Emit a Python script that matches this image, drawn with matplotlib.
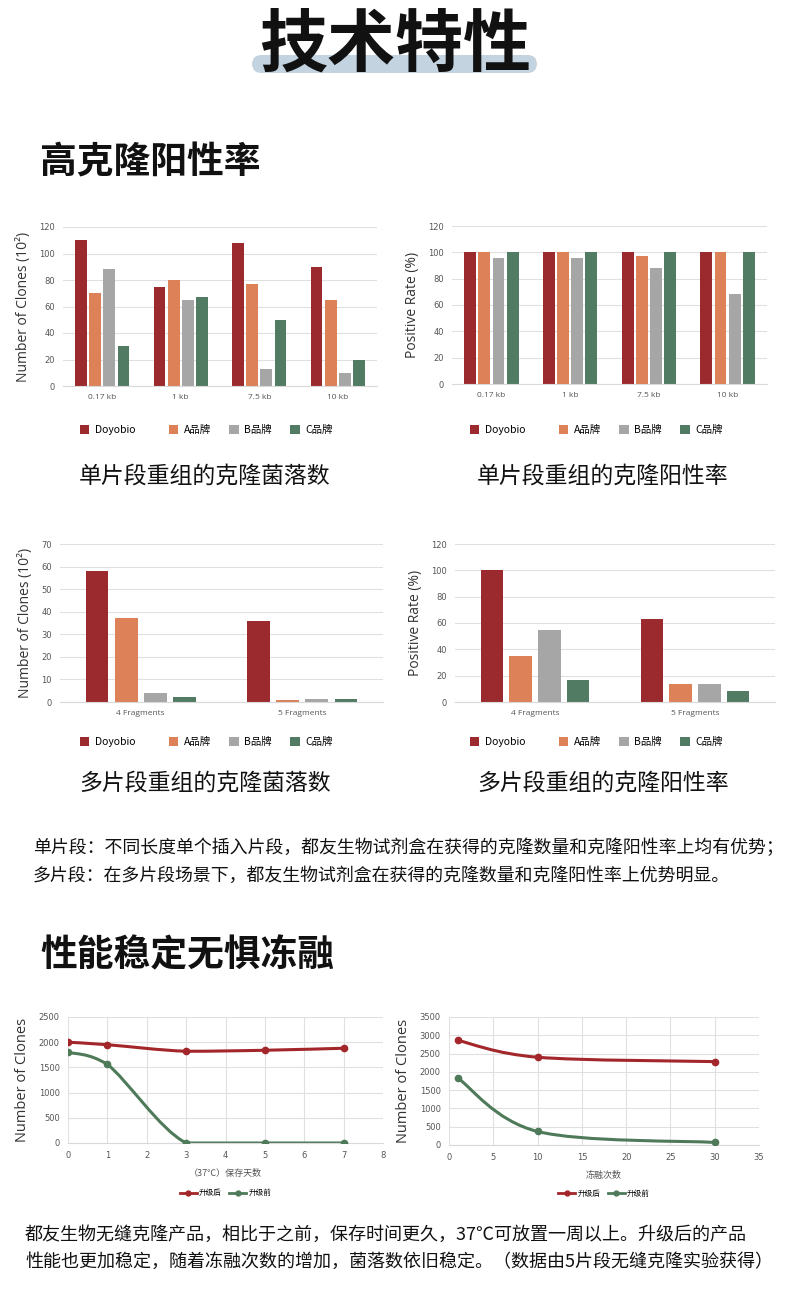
import numpy as np
import matplotlib as mpl
mpl.use('Agg')
import matplotlib.pyplot as plt
from matplotlib.patches import FancyBboxPatch, PathPatch
from matplotlib.path import Path
from matplotlib.lines import Line2D

# data
brands = ['Doyobio', 'A品牌', 'B品牌', 'C品牌']
brand_colors = ['#9b2a2f', '#dc8158', '#a6a6a6', '#517b63']

single_cats = ['0.17 kb', '1 kb', '7.5 kb', '10 kb']
single_clones = [[110, 75, 108, 90],
                 [70, 80, 77, 65],
                 [88, 65, 13, 10],
                 [30, 67, 50, 20]]
single_rate = [[100, 100, 100, 100],
               [100, 100, 97, 100],
               [96, 96, 88, 68],
               [100, 100, 100, 100]]

multi_cats = ['4 Fragments', '5 Fragments']
multi_clones = [[58, 36], [37, 1], [4, 1.2], [2, 1.2]]
multi_rate = [[100, 63], [35, 14], [55, 14], [17, 8]]

days = [0, 1, 3, 5, 7]
days_after = [2000, 1950, 1820, 1840, 1880]
days_before = [1800, 1560, 0, 0, 0]

thaws = [1, 10, 30]
thaws_after = [2860, 2400, 2280]
thaws_before = [1830, 370, 70]

line_names = ['升级后', '升级前']
line_colors = ['#a3262a', '#4e7a5a']

W, H = 790, 1293
CJK = ['Noto Sans CJK SC', 'DejaVu Sans']
LAT = ['Open Sans', 'Noto Sans CJK SC']

fig = plt.figure(figsize=(W / 100, H / 100), dpi=100)
fig.patch.set_facecolor('white')


def box(l, t, r, b):
    return [l / W, 1 - b / H, (r - l) / W, (b - t) / H]


def ftext(x, y, s, **kw):
    fig.text(x / W, 1 - y / H, s, **kw)


# headings
fig.patches.append(FancyBboxPatch((252 / W, 1 - 73 / H), 285 / W, 18 / H,
                                  boxstyle='round,pad=0,rounding_size=0.012',
                                  transform=fig.transFigure, fc='#c3d3e0', ec='none',
                                  mutation_aspect=W / H))
ftext(395, 46, '技术特性', family=CJK, fontsize=49, fontweight='bold',
      ha='center', va='center', color='#111111')
ftext(40, 163, '高克隆阳性率', family=CJK, fontsize=26.5, fontweight='bold',
      va='center', color='#111111')
ftext(40, 956, '性能稳定无惧冻融', family=CJK, fontsize=26.5, fontweight='bold',
      va='center', color='#111111')


def style_axes(ax, ymax, ystep):
    ax.set_ylim(0, ymax)
    ax.set_yticks(np.arange(0, ymax + 1, ystep))
    for s in ['top', 'right', 'left']:
        ax.spines[s].set_visible(False)
    ax.spines['bottom'].set_color('#d9d9d9')
    ax.yaxis.grid(True, color='#e0e0e0', lw=0.8)
    ax.set_axisbelow(True)
    ax.tick_params(length=0, labelsize=6, colors='#555555', pad=6)


def bar_chart(rect, cats, vals, ymax, ystep, ylabel, width, step, leg_x, leg_y):
    ax = fig.add_axes(box(*rect))
    x = np.arange(len(cats))
    bars = []
    for i, (v, c) in enumerate(zip(vals, brand_colors)):
        bars.append(ax.bar(x + (i - 1.5) * step, v, width, color=c))
    ax.set_xlim(-0.5, len(cats) - 0.5)
    ax.set_xticks(x)
    ax.set_xticklabels(cats, family=LAT)
    style_axes(ax, ymax, ystep)
    ax.set_ylabel(ylabel, family=LAT, fontsize=10, color='#333333', labelpad=6)
    labels = [brands[0] + '\u3000  '] + brands[1:]
    ax.legend(bars, labels, loc='center left', bbox_to_anchor=(leg_x / W, 1 - leg_y / H),
              bbox_transform=fig.transFigure, ncol=4, frameon=False,
              borderpad=0, borderaxespad=0,
              handlelength=0.9, handleheight=0.9, columnspacing=1.8,
              handletextpad=0.5, prop={'family': CJK, 'size': 7.5})
    return ax


bar_chart((63, 227, 377, 386), single_cats, single_clones, 120, 20,
          'Number of Clones (10²)', 0.15, 0.18, 80, 430)
bar_chart((452, 226, 767, 384), single_cats, single_rate, 120, 20,
          'Positive Rate (%)', 0.15, 0.18, 470, 430)
bar_chart((60, 544, 383, 702), multi_cats, multi_clones, 70, 10,
          'Number of Clones (10²)', 0.14, 0.18, 80, 742)
bar_chart((455, 544, 775, 702), multi_cats, multi_rate, 120, 20,
          'Positive Rate (%)', 0.14, 0.18, 470, 742)

ftext(205, 476, '单片段重组的克隆菌落数', family=CJK, fontsize=16.5, ha='center', va='center', color='#111111')
ftext(603, 476, '单片段重组的克隆阳性率', family=CJK, fontsize=16.5, ha='center', va='center', color='#111111')
ftext(205, 783, '多片段重组的克隆菌落数', family=CJK, fontsize=16.5, ha='center', va='center', color='#111111')
ftext(603, 783, '多片段重组的克隆阳性率', family=CJK, fontsize=16.5, ha='center', va='center', color='#111111')

ftext(33, 848, '单片段：不同长度单个插入片段，都友生物试剂盒在获得的克隆数量和克隆阳性率上均有优势；',
      family=CJK, fontsize=12.9, va='center', color='#111111')
ftext(33, 876, '多片段：在多片段场景下，都友生物试剂盒在获得的克隆数量和克隆阳性率上优势明显。',
      family=CJK, fontsize=12.9, va='center', color='#111111')


def smooth_path(xs, ys):
    # smoothed line like Excel: cubic bezier through the data points,
    # control points kept inside each segment's value range
    xs = np.asarray(xs, float)
    ys = np.asarray(ys, float)
    px = np.concatenate([[xs[0]], xs, [xs[-1]]])
    py = np.concatenate([[ys[0]], ys, [ys[-1]]])
    verts = [(xs[0], ys[0])]
    codes = [Path.MOVETO]
    for i in range(1, len(xs)):
        lo, hi = min(py[i], py[i + 1]), max(py[i], py[i + 1])
        c1 = (px[i] + (px[i + 1] - px[i - 1]) / 6,
              np.clip(py[i] + (py[i + 1] - py[i - 1]) / 6, lo, hi))
        c2 = (px[i + 1] - (px[i + 2] - px[i]) / 6,
              np.clip(py[i + 1] - (py[i + 2] - py[i]) / 6, lo, hi))
        verts += [c1, c2, (xs[i], ys[i])]
        codes += [Path.CURVE4] * 3
    return Path(verts, codes)


def line_chart(rect, xs, series, xmax, xstep, ymax, ystep, xlabel, leg_y):
    ax = fig.add_axes(box(*rect))
    for ys, c in zip(series, line_colors):
        ax.add_patch(PathPatch(smooth_path(xs, ys), fc='none', ec=c, lw=2.2, capstyle='round'))
        ax.plot(xs, ys, 'o', color=c, ms=4.5, zorder=3)
    ax.set_xlim(0, xmax)
    ax.set_xticks(np.arange(0, xmax + 1, xstep))
    style_axes(ax, ymax, ystep)
    ax.xaxis.grid(True, color='#e0e0e0', lw=0.8)
    ax.set_ylabel('Number of Clones', family=LAT, fontsize=10.5, color='#333333', labelpad=6)
    ax.set_xlabel(xlabel, family=CJK, fontsize=6.5, color='#555555', labelpad=6)
    handles = [Line2D([], [], color=c, lw=2, marker='o', ms=3.5) for c in line_colors]
    ax.legend(handles, line_names, loc='center', bbox_to_anchor=(0.5, leg_y), ncol=2,
              frameon=False, handlelength=2.2, columnspacing=1.0, handletextpad=0.3,
              prop={'family': CJK, 'size': 5.5})
    return ax


line_chart((68, 1017, 383, 1143), days, [days_after, days_before], 8, 1, 2500, 500,
           '（37℃）保存天数', -0.4)
line_chart((449, 1017, 759, 1145), thaws, [thaws_after, thaws_before], 35, 5, 3500, 500,
           '冻融次数', -0.38)

ftext(25, 1235, '都友生物无缝克隆产品，相比于之前，保存时间更久，37℃可放置一周以上。升级后的产品',
      family=CJK, fontsize=13, va='center', color='#111111')
ftext(25, 1262, '性能也更加稳定，随着冻融次数的增加，菌落数依旧稳定。（数据由5片段无缝克隆实验获得）',
      family=CJK, fontsize=13, va='center', color='#111111')

fig.savefig('out.png', dpi=100, facecolor='white')
